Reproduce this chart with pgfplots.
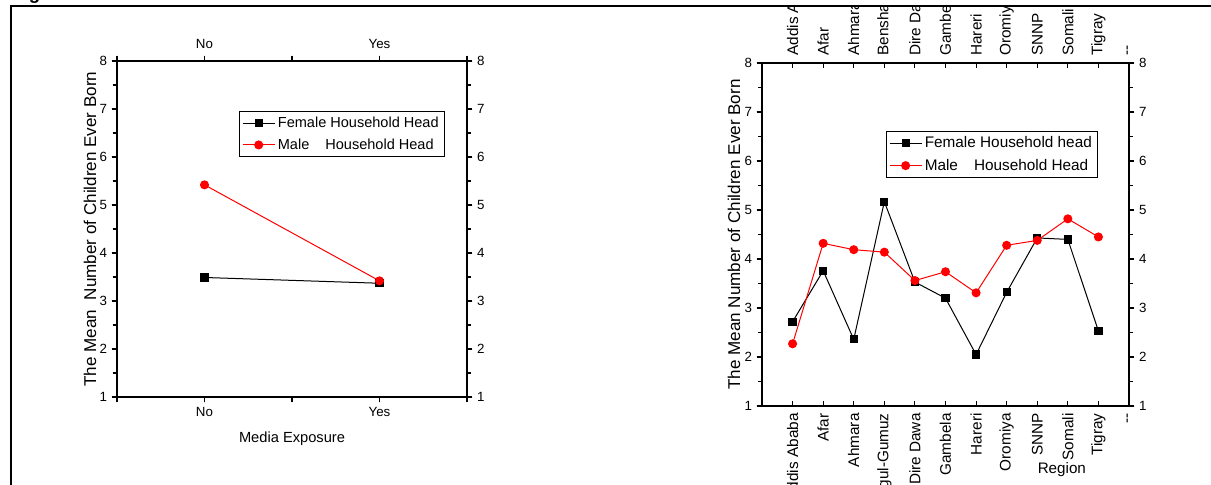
\documentclass[border=0pt]{standalone}
\usepackage{pgfplots}
\usepackage{pgfplotstable}
\pgfplotsset{compat=1.18}
\usepackage{fontspec}
\setmainfont{Liberation Sans}
\setsansfont{Liberation Sans}

\pgfplotstableread{
x female male
1 3.49 5.42
2 3.37 3.42
}\mediadata

\pgfplotstableread{
x female male
1 2.72 2.27
2 3.76 4.32
3 2.36 4.19
4 5.17 4.14
5 3.53 3.56
6 3.20 3.74
7 2.05 3.31
8 3.32 4.28
9 4.43 4.38
10 4.40 4.82
11 2.53 4.45
}\regiondata

\begin{document}
\begin{tikzpicture}
\pgfplotsset{
  base/.style={
    scale only axis,
    clip=false,
    ymin=1, ymax=8,
    ytick={1,...,8},
    minor y tick num=1,
    axis line style={line width=1pt},
    every tick/.style={black, line width=0.8pt},
    major tick length=4pt,
    minor tick length=3pt,
    /pgf/number format/assume math mode=true,
    tick label style={font=\fontsize{10}{11}\selectfont},
    legend cell align=left,
    legend image code/.code={\draw[mark repeat=2,mark phase=2,##1] plot coordinates {(0pt,0pt) (12pt,0pt) (24pt,0pt)};},
  },
  fem/.style={black, line width=0.75pt, mark=square*, mark size=2.7pt, mark options={solid}},
  mal/.style={red, line width=0.75pt, mark=*, mark size=3pt, mark options={solid}},
}

% ---------- left plot ----------
\begin{axis}[base,
  at={(87.75pt,-297.75pt)}, anchor=south west,
  width=262.5pt, height=252pt,
  xmin=0.5, xmax=2.5, xtick={0.5,1,1.5,2,2.5}, xticklabels={,No,,Yes,},
  tick align=outside, tick pos=both,
  xticklabel pos=lower, yticklabel pos=left,
  xlabel={Media Exposure},
  xlabel style={at={(axis description cs:0.5,-0.125)}, anchor=center, font=\fontsize{11}{13}\selectfont},
  ylabel={The Mean\ \ Number of Children Ever Born},
  ylabel style={at={(axis description cs:-0.077,0.5)}, anchor=center, font=\fontsize{12.8}{14}\selectfont},
  legend style={at={(axis description cs:0.349,0.851)}, anchor=north west, draw=black, line width=0.6pt,
    font=\fontsize{10.9}{13}\selectfont, inner xsep=2pt, inner ysep=2pt, row sep=3pt},
]
\addplot[fem] table[x=x, y=female] {\mediadata};
\addlegendentry{Female Household Head}
\addplot[mal] table[x=x, y=male] {\mediadata};
\addlegendentry{Male\hspace*{12pt}Household Head}
\end{axis}
\begin{axis}[base,
  at={(87.75pt,-297.75pt)}, anchor=south west,
  width=262.5pt, height=252pt,
  xmin=0.5, xmax=2.5, xtick={0.5,1,1.5,2,2.5}, xticklabels={,No,,Yes,},
  tick align=outside, tick pos=both,
  xticklabel pos=upper, yticklabel pos=right,
  xticklabel style={yshift=1.5pt},
]
\addplot[draw=none] coordinates {(1,1)};
\end{axis}

% ---------- right plot ----------
\begin{scope}
\clip (0pt,-5.25pt) rectangle (908.25pt,-400pt);
\begin{axis}[base,
  at={(571.5pt,-304.5pt)}, anchor=south west,
  width=275.25pt, height=257.25pt,
  xmin=0, xmax=12, xtick={1,...,12},
  xticklabels={Addis Ababa,Afar,Ahmara,Benshangul-Gumuz,Dire Dawa,Gambela,Hareri,Oromiya,SNNP,Somali,Tigray,-{}-},
  xtick align=inside, ytick align=outside, tick pos=both,
  xticklabel pos=lower, yticklabel pos=left,
  xticklabel style={yshift=-2pt, rotate=90, anchor=east, font=\fontsize{11.5}{13}\selectfont},
  xlabel={Region},
  xlabel style={at={(axis description cs:0.817,-0.186)}, anchor=center, font=\fontsize{11.4}{13}\selectfont},
  ylabel={The Mean Number of Children Ever Born},
  ylabel style={at={(axis description cs:-0.076,0.5)}, anchor=center, font=\fontsize{12.8}{14}\selectfont},
  legend style={at={(axis description cs:0.338,0.802)}, anchor=north west, draw=black, line width=0.6pt,
    font=\fontsize{11.5}{13}\selectfont, inner xsep=2pt, inner ysep=2pt, row sep=3pt},
]
\addplot[fem] table[x=x, y=female] {\regiondata};
\addlegendentry{Female Household head}
\addplot[mal] table[x=x, y=male] {\regiondata};
\addlegendentry{Male\hspace*{12pt}Household Head}
\end{axis}
\begin{axis}[base,
  at={(571.5pt,-304.5pt)}, anchor=south west,
  width=275.25pt, height=257.25pt,
  xmin=0, xmax=12, xtick={1,...,12},
  xticklabels={Addis Ababa,Afar,Ahmara,Benshangul-Gumuz,Dire Dawa,Gambela,Hareri,Oromiya,SNNP,Somali,Tigray,-{}-},
  xtick align=inside, ytick align=outside, tick pos=both,
  xticklabel pos=upper, yticklabel pos=right,
  xticklabel style={yshift=2pt, rotate=90, anchor=west, font=\fontsize{11.5}{13}\selectfont},
]
\addplot[draw=none] coordinates {(1,1)};
\end{axis}
\end{scope}

% ---------- frame ----------
\node[anchor=base west, inner sep=0pt, font=\bfseries\fontsize{14}{16}\selectfont] at (9pt,0.6pt) {Fig};
\draw[line width=1.5pt] (8.25pt,-370pt) -- (8.25pt,-4.5pt) -- (915pt,-4.5pt);

\pgfresetboundingbox
\path[use as bounding box] (0pt,0pt) rectangle (908.25pt,-363.75pt);
\end{tikzpicture}
\end{document}
